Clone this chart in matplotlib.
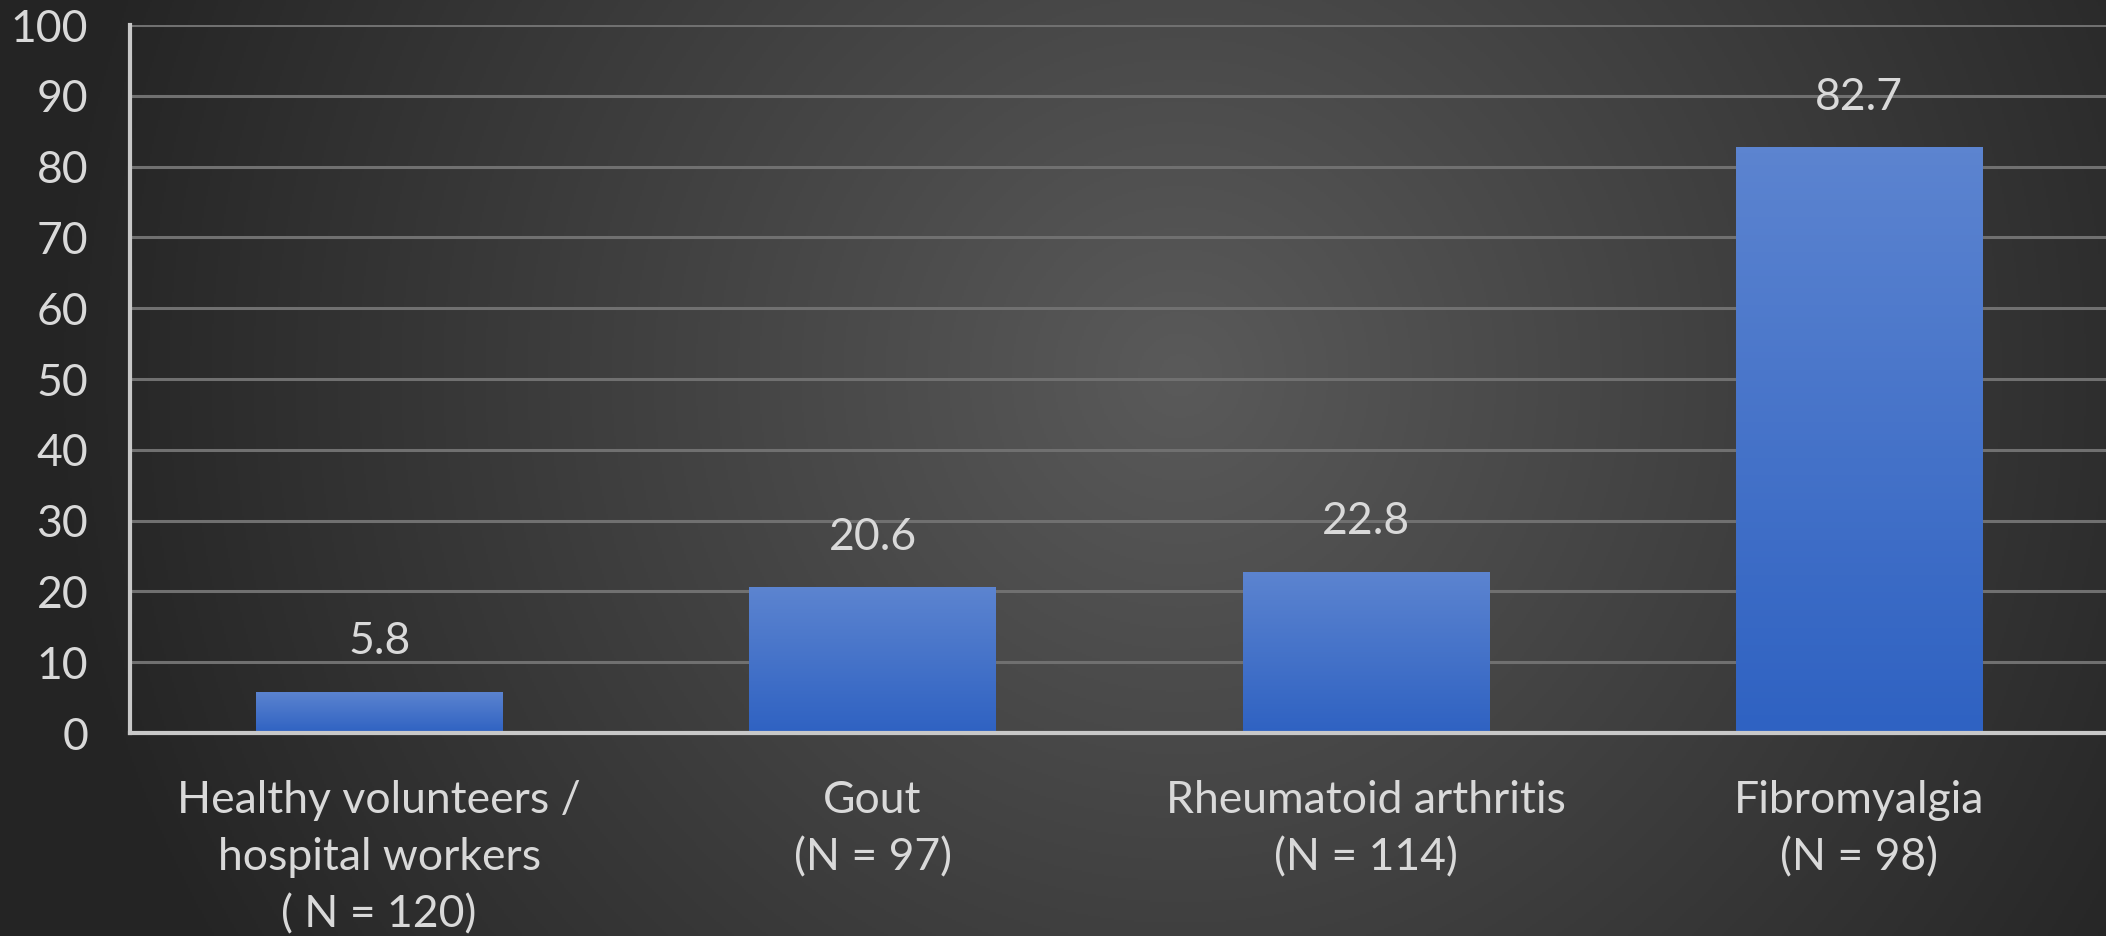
import numpy as np
import matplotlib
matplotlib.use("Agg")
import matplotlib.pyplot as plt

categories = ["Healthy volunteers /\nhospital workers\n( N = 120)",
              "Gout\n(N = 97)",
              "Rheumatoid arthritis\n(N = 114)",
              "Fibromyalgia\n(N = 98)"]
values = [5.8, 20.6, 22.8, 82.7]
value_labels = ["5.8", "20.6", "22.8", "82.7"]
yticks = [0, 10, 20, 30, 40, 50, 60, 70, 80, 90, 100]

W, H = 2106, 936
plt.rcParams['font.family'] = ['Lato', 'DejaVu Sans']
txt = '#d9d9d9'
FS = 32

fig = plt.figure(figsize=(W/100, H/100), dpi=100)

# background radial gradient
bg = fig.add_axes([0, 0, 1, 1], zorder=-10)
yy, xx = np.mgrid[0:H:2, 0:W:2]
cx, cy = 0.56*W, 0.40*H
r = np.sqrt(((xx-cx)/(0.75*W))**2 + ((yy-cy)/(0.75*W))**2)
r = np.clip(r/0.72, 0, 1)
c0 = np.array([0x5a, 0x5a, 0x5a])/255
c1 = np.array([0x24, 0x24, 0x24])/255
img = c0[None, None, :]*(1-r[..., None]) + c1[None, None, :]*r[..., None]
bg.imshow(img, extent=[0, 1, 0, 1], aspect='auto', origin='upper')
bg.axis('off')

left = 130/W
bottom = (H-733)/H
top = (H-25)/H
ax = fig.add_axes([left, bottom, 1-left, top-bottom])
ax.patch.set_alpha(0)

x = np.arange(len(categories))
bars = ax.bar(x, values, width=0.5, color='#4a78cc', zorder=3)

grad = np.linspace(0, 1, 100)[:, None]
top_c = np.array([0x5c, 0x84, 0xd0])/255
bot_c = np.array([0x2f, 0x62, 0xc2])/255
gimg = top_c[None, None, :]*(1-grad[..., None]) + bot_c[None, None, :]*grad[..., None]
for b in bars:
    bx, by = b.get_x(), b.get_y()
    bw, bh = b.get_width(), b.get_height()
    im = ax.imshow(gimg, extent=[bx, bx+bw, by, by+bh], aspect='auto',
                   origin='upper', zorder=4)
    im.set_clip_path(b)
ax.set_aspect('auto')
ax.set_xlim(-0.505, 3.5)
ax.set_ylim(0, 100)

for b, lab in zip(bars, value_labels):
    ax.annotate(lab, (b.get_x()+b.get_width()/2, b.get_height()),
                xytext=(0, 27), textcoords='offset points',
                ha='center', va='baseline', fontsize=FS, color=txt, zorder=6)

ax.set_yticks(yticks)
ax.set_yticklabels([str(t) for t in yticks])
ax.set_xticks(x)
ax.set_xticklabels(categories, linespacing=1.48)
ax.tick_params(axis='y', length=0, pad=30, labelsize=FS, labelcolor=txt)
ax.tick_params(axis='x', length=0, pad=34, labelsize=FS, labelcolor=txt)

ax.yaxis.grid(True, color='#707070', linewidth=2.2, zorder=0)
ax.set_axisbelow(True)
for s in ['top', 'right']:
    ax.spines[s].set_visible(False)
for s in ['left', 'bottom']:
    ax.spines[s].set_color('#c8c8c8')
    ax.spines[s].set_linewidth(3)
    ax.spines[s].set_zorder(5)

fig.savefig('out.png', dpi=100, facecolor='#2a2a2a')
